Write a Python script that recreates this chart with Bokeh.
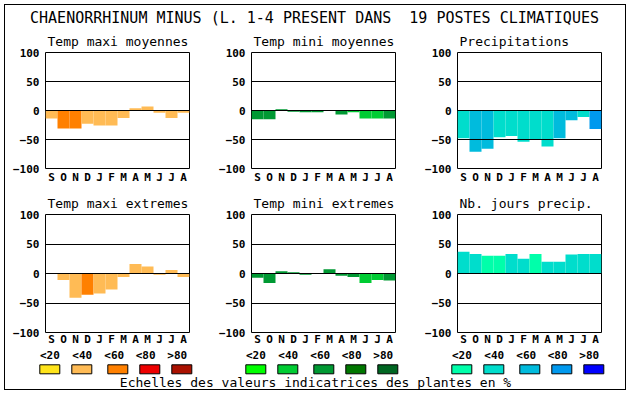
from bokeh.plotting import figure
from bokeh.layouts import column, row
from bokeh.models import Range1d, FixedTicker
from bokeh.core.properties import value
from bokeh.embed import file_html
from bokeh.resources import INLINE

# ---------------- data ----------------
MAIN_TITLE = "CHAENORRHINUM MINUS (L. 1-4 PRESENT DANS \u00a019 POSTES CLIMATIQUES"
FOOTER = "Echelles des valeurs indicatrices des plantes en %"
MONTHS = ["S", "O", "N", "D", "J", "F", "M", "A", "M", "J", "J", "A"]
Y_TICKS = [-100, -50, 0, 50, 100]
GRID_TICKS = [-50, 0, 50]
CLASS_LABELS = ["<20", "<40", "<60", "<80", ">80"]

ORANGES = ["#FFE41A", "#FFBB55", "#FF8000", "#EE0000", "#AA1100"]
GREENS = ["#00FF00", "#00CC33", "#009933", "#007700", "#006622"]
BLUES = ["#00FFAA", "#00DDCC", "#00BBDD", "#0099EE", "#0000FF"]

titles_row1 = ["Temp maxi moyennes", "Temp mini moyennes", "Precipitations"]
titles_row2 = ["Temp maxi extremes", "Temp mini extremes", "Nb. jours precip."]

temp_maxi_moy = [-14, -31, -31, -23, -26, -26, -13, 4, 7, -4, -13, -4]
temp_maxi_moy_cls = [1, 2, 2, 1, 1, 1, 1, 1, 1, 1, 1, 1]

temp_mini_moy = [-15, -15, 2, -2, -3, -3, -1, -7, -3, -14, -14, -14]
temp_mini_moy_cls = [2, 2, 2, 2, 2, 2, 1, 2, 1, 1, 1, 2]

precip = [-48, -71, -66, -46, -44, -54, -50, -62, -48, -17, -11, -32]
precip_cls = [1, 2, 2, 1, 1, 1, 1, 1, 2, 2, 1, 3]

temp_maxi_ext = [0, -11, -41, -36, -34, -27, -6, 16, 12, -2, 6, -6]
temp_maxi_ext_cls = [1, 1, 1, 2, 1, 1, 1, 1, 1, 1, 1, 1]

temp_mini_ext = [-7, -16, 4, 2, -2, 0, 7, -4, -6, -16, -11, -12]
temp_mini_ext_cls = [2, 2, 2, 2, 2, 2, 2, 2, 2, 1, 1, 2]

nb_jours = [37, 33, 30, 30, 33, 25, 33, 20, 20, 32, 33, 33]
nb_jours_cls = [1, 1, 0, 0, 1, 1, 0, 1, 1, 1, 1, 1]

MONO = "DejaVu Sans Mono"
W, H = 630, 394


def panel(title, vals, cls, pal, width, right_b, height, top_b, bottom_b, label_standoff):
    n = len(MONTHS)
    p = figure(width=width, height=height,
               x_range=Range1d(-0.5, n - 0.5), y_range=Range1d(Y_TICKS[0], Y_TICKS[-1]),
               output_backend="svg", toolbar_location=None,
               min_border_left=45, min_border_right=right_b,
               min_border_top=top_b, min_border_bottom=bottom_b)
    p.title.text = title
    p.title.align = "left"
    p.title.offset = 2
    p.title.standoff = 7
    p.title.text_font = MONO
    p.title.text_font_size = "13px"
    p.title.text_font_style = "normal"
    p.title.text_color = "black"

    colors = [pal[c] for c in cls]
    p.vbar(x=list(range(n)), top=vals, bottom=0, width=1,
           fill_color=colors, line_color=None)

    p.xaxis.ticker = FixedTicker(ticks=list(range(n)))
    p.xaxis.major_label_overrides = {i: m for i, m in enumerate(MONTHS)}
    p.yaxis.ticker = FixedTicker(ticks=Y_TICKS)
    for ax in (p.xaxis[0], p.yaxis[0]):
        ax.axis_line_color = None
        ax.major_tick_line_color = None
        ax.minor_tick_line_color = None
        ax.major_tick_out = 0
        ax.major_tick_in = 0
        ax.major_label_text_font = MONO
        ax.major_label_text_font_size = "11px"
        ax.major_label_text_font_style = "bold"
        ax.major_label_text_color = "black"
    p.yaxis.major_label_standoff = 6
    p.xaxis.major_label_standoff = label_standoff

    p.xgrid.visible = False
    p.ygrid.ticker = FixedTicker(ticks=GRID_TICKS)
    p.ygrid.grid_line_color = "black"
    p.ygrid.grid_line_alpha = 1
    p.ygrid.grid_line_width = 1
    p.ygrid.level = "overlay"
    p.outline_line_color = "black"
    p.outline_line_alpha = 1
    p.outline_line_width = 1
    p.background_fill_color = "white"
    p.border_fill_color = None
    return p


# title figure
TH = 28
tf = figure(width=W, height=TH, x_range=Range1d(0, W), y_range=Range1d(TH, 0),
            output_backend="svg", toolbar_location=None,
            x_axis_type=None, y_axis_type=None, min_border=0)
tf.outline_line_color = None
tf.background_fill_color = None
tf.border_fill_color = None
tf.grid.visible = False
tf.text(x=[314], y=[17], text=[MAIN_TITLE], text_align="center", text_baseline="middle",
        text_font=value(MONO), text_font_size="15px", text_color="black")

row1_data = [(temp_maxi_moy, temp_maxi_moy_cls, ORANGES),
             (temp_mini_moy, temp_mini_moy_cls, GREENS),
             (precip, precip_cls, BLUES)]
row2_data = [(temp_maxi_ext, temp_maxi_ext_cls, ORANGES),
             (temp_mini_ext, temp_mini_ext_cls, GREENS),
             (nb_jours, nb_jours_cls, BLUES)]

widths = [206, 206, 218]
rights = [17, 17, 29]
R1H, R2H = 158, 162

r1 = [panel(titles_row1[i], *row1_data[i], widths[i], rights[i], R1H, 22, 16, 2) for i in range(3)]
r2 = [panel(titles_row2[i], *row2_data[i], widths[i], rights[i], R2H, 28, 14, 0) for i in range(3)]

# legend figure
LH = H - TH - R1H - R2H
lf = figure(width=W, height=LH, x_range=Range1d(0, W), y_range=Range1d(LH, 0),
            output_backend="svg", toolbar_location=None,
            x_axis_type=None, y_axis_type=None, min_border=0)
lf.outline_line_color = None
lf.background_fill_color = None
lf.border_fill_color = None
lf.grid.visible = False
box_left = [39.3, 71.3, 107.3, 139.3, 171.3]
label_left = [39.5, 71.8, 103.8, 135.2, 166.8]
group_step = 206
for g, pal in enumerate([ORANGES, GREENS, BLUES]):
    lf.quad(left=[b + g * group_step for b in box_left],
            right=[b + g * group_step + 20 for b in box_left],
            top=[16.3] * 5, bottom=[25.3] * 5,
            fill_color=pal, line_color="black", line_width=1)
    lf.text(x=[l + g * group_step for l in label_left], y=[7] * 5, text=CLASS_LABELS,
            text_align="left", text_baseline="middle",
            text_font=value(MONO), text_font_size="11px", text_font_style="bold",
            text_color="black")
lf.text(x=[315], y=[34], text=[FOOTER], text_align="center", text_baseline="middle",
        text_font=value(MONO), text_font_size="13px", text_color="black")

frame_bg = ("linear-gradient(#000,#000) 4px 4px / 622px 1px no-repeat, "
            "linear-gradient(#000,#000) 4px 389px / 622px 1px no-repeat, "
            "linear-gradient(#000,#000) 4px 4px / 1px 386px no-repeat, "
            "linear-gradient(#000,#000) 625px 4px / 1px 386px no-repeat, #fff")

layout = column(tf, row(*r1, spacing=0), row(*r2, spacing=0), lf, spacing=0,
                styles={"background": frame_bg})

open("out.html", "w").write(file_html(layout, INLINE))
